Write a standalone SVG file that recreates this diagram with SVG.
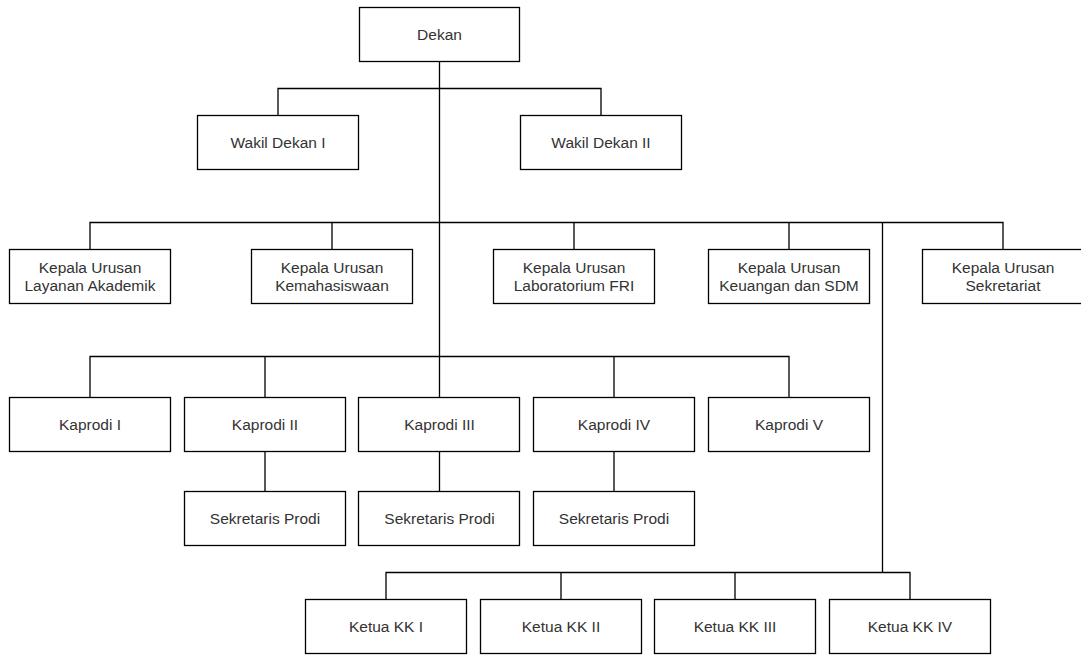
<svg xmlns="http://www.w3.org/2000/svg" width="1081" height="655" viewBox="0 0 1081 655">
<style>
.box{fill:#ffffff;stroke:#000000;stroke-width:1.3}
.lbl{font-family:"Liberation Sans",Arial,sans-serif;font-size:15.5px;fill:#333333;text-anchor:middle;dominant-baseline:central}
.con{fill:none;stroke:#000000;stroke-width:1.3}
</style>
<rect width="1081" height="655" fill="#ffffff"/>
<g id="connectors">
<path class="con" d="M439.5 61.5V397.5"/>
<path class="con" d="M278 115.5V88.5H601V115.5"/>
<path class="con" d="M90 249.5V222.5H1003V249.5M332 222.5V249.5M574 222.5V249.5M789 222.5V249.5"/>
<path class="con" d="M882.5 222.5V572.5"/>
<path class="con" d="M90 397.5V356.5H789V397.5M265 356.5V397.5M614 356.5V397.5"/>
<path class="con" d="M265 451.5V491.5M439.5 451.5V491.5M614 451.5V491.5"/>
<path class="con" d="M386 599.5V572.5H910V599.5M561 572.5V599.5M735 572.5V599.5"/>
</g>
<g id="dekan"><rect class="box" x="359.5" y="7.5" width="160" height="54"/><text class="lbl" x="439.5" y="34.5">Dekan</text></g>
<g id="wd1"><rect class="box" x="197.5" y="115.5" width="161" height="54"/><text class="lbl" x="278" y="142.5">Wakil Dekan I</text></g>
<g id="wd2"><rect class="box" x="520.5" y="115.5" width="161" height="54"/><text class="lbl" x="601" y="142.5">Wakil Dekan II</text></g>
<g id="kaur1"><rect class="box" x="9.5" y="249.5" width="161" height="54"/><text class="lbl" x="90" y="267.5">Kepala Urusan</text><text class="lbl" x="90" y="285.5">Layanan Akademik</text></g>
<g id="kaur2"><rect class="box" x="251.5" y="249.5" width="161" height="54"/><text class="lbl" x="332" y="267.5">Kepala Urusan</text><text class="lbl" x="332" y="285.5">Kemahasiswaan</text></g>
<g id="kaur3"><rect class="box" x="493.5" y="249.5" width="161" height="54"/><text class="lbl" x="574" y="267.5">Kepala Urusan</text><text class="lbl" x="574" y="285.5">Laboratorium FRI</text></g>
<g id="kaur4"><rect class="box" x="708.5" y="249.5" width="161" height="54"/><text class="lbl" x="789" y="267.5">Kepala Urusan</text><text class="lbl" x="789" y="285.5">Keuangan dan SDM</text></g>
<g id="kaur5"><rect class="box" x="922.5" y="249.5" width="161" height="54"/><text class="lbl" x="1003" y="267.5">Kepala Urusan</text><text class="lbl" x="1003" y="285.5">Sekretariat</text></g>
<g id="kaprodi1"><rect class="box" x="9.5" y="397.5" width="161" height="54"/><text class="lbl" x="90" y="424.5">Kaprodi I</text></g>
<g id="kaprodi2"><rect class="box" x="184.5" y="397.5" width="161" height="54"/><text class="lbl" x="265" y="424.5">Kaprodi II</text></g>
<g id="kaprodi3"><rect class="box" x="358.5" y="397.5" width="161" height="54"/><text class="lbl" x="439.5" y="424.5">Kaprodi III</text></g>
<g id="kaprodi4"><rect class="box" x="533.5" y="397.5" width="161" height="54"/><text class="lbl" x="614" y="424.5">Kaprodi IV</text></g>
<g id="kaprodi5"><rect class="box" x="708.5" y="397.5" width="161" height="54"/><text class="lbl" x="789" y="424.5">Kaprodi V</text></g>
<g id="sekprodi2"><rect class="box" x="184.5" y="491.5" width="161" height="54"/><text class="lbl" x="265" y="518.5">Sekretaris Prodi</text></g>
<g id="sekprodi3"><rect class="box" x="358.5" y="491.5" width="161" height="54"/><text class="lbl" x="439.5" y="518.5">Sekretaris Prodi</text></g>
<g id="sekprodi4"><rect class="box" x="533.5" y="491.5" width="161" height="54"/><text class="lbl" x="614" y="518.5">Sekretaris Prodi</text></g>
<g id="kk1"><rect class="box" x="305.5" y="599.5" width="161" height="54"/><text class="lbl" x="386" y="626.5">Ketua KK I</text></g>
<g id="kk2"><rect class="box" x="480.5" y="599.5" width="161" height="54"/><text class="lbl" x="561" y="626.5">Ketua KK II</text></g>
<g id="kk3"><rect class="box" x="654.5" y="599.5" width="161" height="54"/><text class="lbl" x="735" y="626.5">Ketua KK III</text></g>
<g id="kk4"><rect class="box" x="829.5" y="599.5" width="161" height="54"/><text class="lbl" x="910" y="626.5">Ketua KK IV</text></g>
</svg>
